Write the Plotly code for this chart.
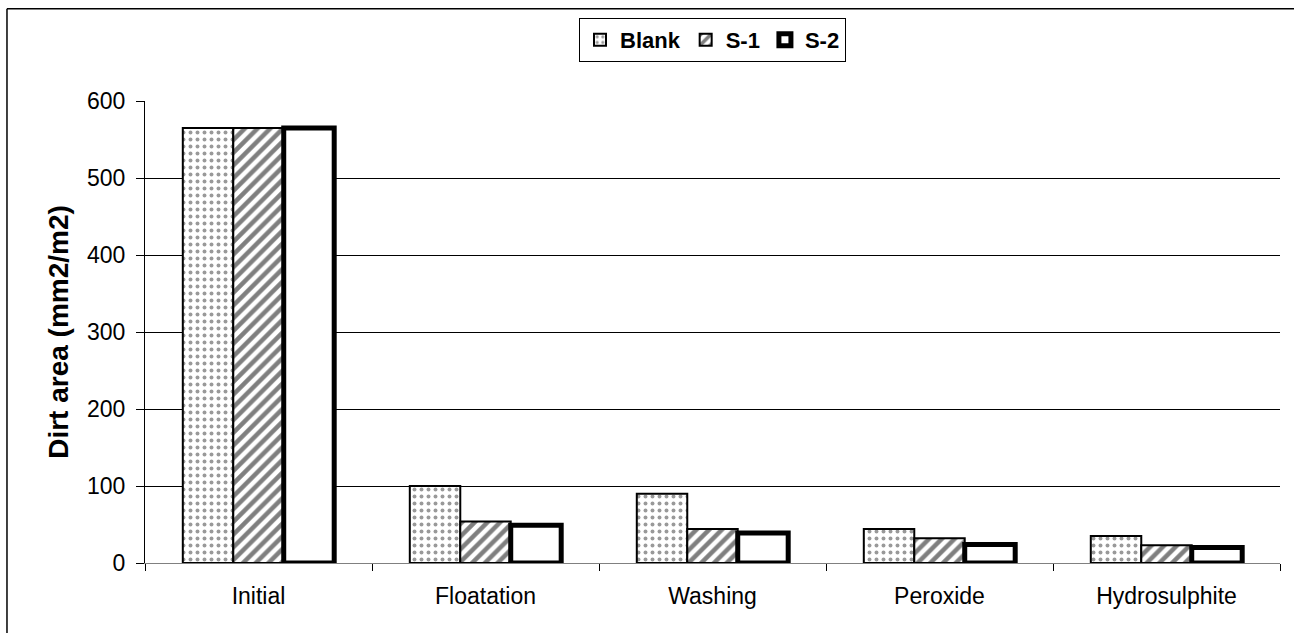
import plotly.graph_objects as go

stages = ["Initial", "Floatation", "Washing", "Peroxide", "Hydrosulphite"]
blank = [565, 100, 90, 44, 35]
s1 = [565, 54, 44, 32, 23]
s2 = [565, 49, 39, 24, 20]
y_ticks = [0, 100, 200, 300, 400, 500, 600]

FONT = "Liberation Sans, Arial, sans-serif"

fig = go.Figure()
fig.add_trace(go.Bar(
    name="Blank", x=stages, y=blank,
    marker=dict(color="white", line=dict(color="black", width=2),
                pattern=dict(shape=".", fgcolor="#333333", bgcolor="white",
                             size=7, solidity=0.25)),
))
fig.add_trace(go.Bar(
    name="S-1", x=stages, y=s1,
    marker=dict(color="white", line=dict(color="black", width=2),
                pattern=dict(shape="/", fgcolor="black", bgcolor="white",
                             size=9, solidity=0.5)),
))
fig.add_trace(go.Bar(
    name="S-2", x=stages, y=s2,
    marker=dict(color="white", line=dict(color="black", width=5)),
))

fig.update_layout(
    width=1294, height=633,
    paper_bgcolor="white", plot_bgcolor="white",
    margin=dict(l=145, r=14, t=101, b=70),
    barmode="group", bargap=0.333, bargroupgap=0,
    font=dict(family=FONT, size=23, color="black"),
    showlegend=True,
    legend=dict(
        orientation="h", x=0.5, xanchor="center", y=1.18, yanchor="top",
        font=dict(family=FONT, size=22, color="black", weight="bold"),
        bordercolor="black", borderwidth=1, bgcolor="white",
        itemwidth=30, tracegroupgap=0,
    ),
    xaxis=dict(
        showline=True, linecolor="#808080", linewidth=1,
        ticks="outside", tickson="boundaries", ticklen=7, tickcolor="black",
        showgrid=False, tickfont=dict(size=23), ticklabelstandoff=12,
    ),
    yaxis=dict(
        range=[0, 600], tickvals=y_ticks,
        showline=True, linecolor="black", linewidth=1,
        ticks="outside", ticklen=8, tickcolor="black",
        showgrid=True, gridcolor="black", gridwidth=1,
        zeroline=True, zerolinecolor="#808080", zerolinewidth=1,
        tickfont=dict(size=23), ticklabelstandoff=6,
        title=dict(text="<b>Dirt area (mm2/m2)</b>", font=dict(size=28), standoff=10),
    ),
    shapes=[
        dict(type="line", xref="paper", yref="paper", x0=-0.1216, x1=1.02,
             y0=1.1996, y1=1.1996, line=dict(color="black", width=1.5)),
        dict(type="line", xref="paper", yref="paper", x0=-0.1216, x1=-0.1216,
             y0=-0.2, y1=1.1996, line=dict(color="black", width=1.5)),
    ],
)

fig.write_html("out.html")
